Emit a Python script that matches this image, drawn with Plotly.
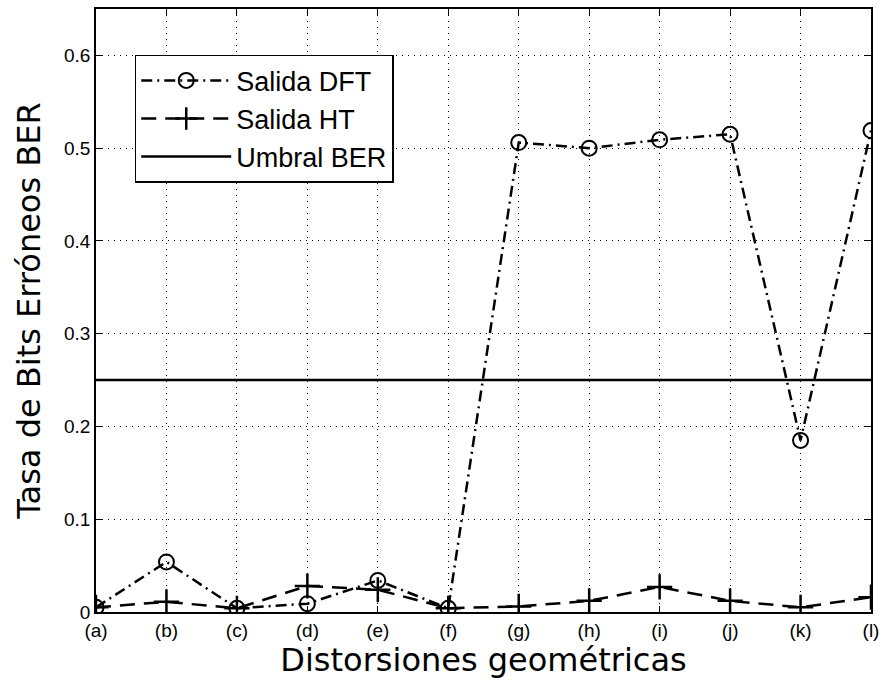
import plotly.graph_objects as go

categories = ["(a)", "(b)", "(c)", "(d)", "(e)", "(f)", "(g)", "(h)", "(i)", "(j)", "(k)", "(l)"]
ber_dft = [0.005, 0.054, 0.004, 0.009, 0.034, 0.004, 0.506, 0.500, 0.509, 0.515, 0.185, 0.519]
ber_ht = [0.005, 0.011, 0.004, 0.028, 0.024, 0.004, 0.006, 0.012, 0.027, 0.012, 0.005, 0.016]
umbral = 0.25
y_ticks = [0, 0.1, 0.2, 0.3, 0.4, 0.5, 0.6]
y_tick_labels = ["0", "0.1", "0.2", "0.3", "0.4", "0.5", "0.6"]

xs = list(range(len(categories)))
font_family = "Liberation Sans, Arial, sans-serif"
title_family = "DejaVu Sans, Liberation Sans, sans-serif"

fig = go.Figure()
fig.add_trace(go.Scatter(
    x=xs, y=ber_dft, name="Salida DFT", mode="lines+markers",
    line=dict(color="black", width=2.5, dash="11px,5px,2px,5px"),
    marker=dict(symbol="circle-open", size=15, color="black", line=dict(width=2, color="black")),
))
fig.add_trace(go.Scatter(
    x=xs, y=ber_ht, name="Salida HT", mode="lines+markers",
    line=dict(color="black", width=2.5, dash="15px,9px"),
    marker=dict(symbol="cross-thin-open", size=18, color="black", line=dict(width=2.5, color="black")),
))
fig.add_trace(go.Scatter(
    x=[xs[0], xs[-1]], y=[umbral, umbral], name="Umbral BER", mode="lines",
    line=dict(color="black", width=2.5),
))

grid_dash = "1px,5px"
fig.update_layout(
    width=886, height=687,
    margin=dict(l=96, r=9, t=7, b=75),
    paper_bgcolor="white", plot_bgcolor="white",
    font=dict(family=font_family, color="black", size=19),
    showlegend=True,
    legend=dict(
        x=0.05, y=0.924, xanchor="left", yanchor="top",
        bgcolor="white", bordercolor="black", borderwidth=1.5,
        font=dict(size=27, family=font_family),
        tracegroupgap=0, itemwidth=90,
    ),
    xaxis=dict(
        range=[0, 11], tickmode="array", tickvals=xs, ticktext=categories,
        showgrid=True, gridcolor="black", griddash=grid_dash, gridwidth=1,
        showline=True, linecolor="black", linewidth=1.5, mirror="ticks",
        ticks="inside", ticklen=6, tickcolor="black",
        zeroline=False,
        title=dict(text="Distorsiones geométricas", font=dict(size=32, family=title_family), standoff=2),
        tickfont=dict(size=19),
    ),
    yaxis=dict(
        range=[0, 0.65], tickmode="array", tickvals=y_ticks, ticktext=y_tick_labels,
        showgrid=True, gridcolor="black", griddash=grid_dash, gridwidth=1,
        showline=True, linecolor="black", linewidth=1.5, mirror="ticks",
        ticks="inside", ticklen=6, tickcolor="black",
        zeroline=False,
        title=dict(text="Tasa de Bits Erróneos BER", font=dict(size=32, family=title_family), standoff=14),
        tickfont=dict(size=19),
    ),
)

fig.write_html("out.html")
